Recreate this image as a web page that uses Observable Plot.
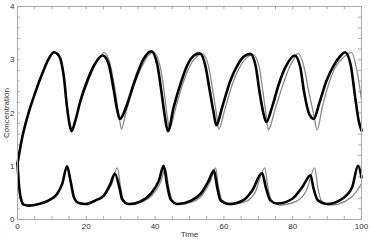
<!DOCTYPE html>
<html>
<head>
<meta charset="utf-8">
<script src="https://cdn.jsdelivr.net/npm/d3@7"></script>
<script src="https://cdn.jsdelivr.net/npm/@observablehq/plot@0.6"></script>
<style>
  html, body { margin: 0; padding: 0; background: #fff; }
  #chart svg { display: block; }
</style>
</head>
<body>
<div id="chart"></div>
<script>
// Upper series (black, model A)
const upperBlackT = [0,1.4,3.3,5.2,7.2,9.1,10.6,12.0,13.5,14.4,15.1,15.7,16.7,18.3,20.3,22.2,24.8,26.5,28.0,29.0,29.7,31.9,33.8,36.7,38.9,40.6,41.8,42.8,43.7,45.4,47.4,49.3,51.3,53.0,54.7,55.8,56.9,57.8,59.5,61.9,63.9,65.8,67.7,69.3,70.3,71.4,72.3,74.0,76.0,77.9,80.6,82.2,83.4,84.8,86.1,87.8,89.8,92.0,94.0,95.2,96.8,98.3,99.2,100];
const upperBlackY = [1.05,1.55,2.02,2.39,2.74,3.02,3.14,3.08,2.67,2.11,1.80,1.66,1.83,2.23,2.61,2.89,3.08,2.92,2.42,2.05,1.89,2.17,2.55,3.02,3.16,2.92,2.42,1.95,1.66,2.11,2.55,2.89,3.08,3.12,2.86,2.45,2.05,1.77,2.11,2.61,2.89,3.06,3.11,2.86,2.42,2.02,1.83,2.11,2.55,2.86,3.08,2.86,2.36,1.98,1.89,2.20,2.60,2.90,3.08,3.14,2.92,2.23,1.85,1.67];
// Upper series (gray, model B)
const upperGrayT = [0,1.4,3.3,5.2,7.2,9.1,10.6,12.0,13.5,14.4,15.1,15.7,16.7,18.3,20.3,22.2,24.1,25.1,26.8,28.4,29.5,30.2,31.5,33.5,36.0,38.0,39.6,41.5,42.6,43.6,44.2,45.8,47.8,50.0,52.0,53.7,55.6,56.7,57.8,58.5,60.2,62.5,64.5,66.5,68.4,70.3,71.3,72.3,72.9,74.8,77.0,79.0,80.5,81.6,83.3,84.8,86.2,87.1,88.6,90.5,92.4,95.0,97.1,98.5,100];
const upperGrayY = [1.05,1.55,2.02,2.39,2.74,3.02,3.14,3.08,2.67,2.11,1.80,1.66,1.83,2.20,2.55,2.85,3.06,3.14,2.95,2.42,1.95,1.70,2.00,2.45,2.85,3.08,3.14,2.86,2.42,1.90,1.70,2.05,2.50,2.87,3.05,3.11,2.86,2.45,2.00,1.70,2.05,2.55,2.85,3.03,3.10,2.86,2.42,1.95,1.68,2.05,2.50,2.85,3.03,3.12,2.86,2.36,1.95,1.68,2.11,2.55,2.86,3.06,3.14,2.85,2.25];
// Lower series (black, model A)
const lowerBlackT = [0,0.4,0.9,1.8,3.3,6.2,9.1,11.5,13.0,14.4,15.4,16.4,17.8,19.8,22.7,25.1,27.0,28.3,29.7,30.4,32.4,35.8,38.7,41.1,42.5,43.5,44.5,46.5,50.3,53.2,55.6,57.1,58.0,59.0,61.5,65.8,68.2,71.1,72.2,73.5,75.5,79.9,82.8,85.2,86.0,87.3,90.0,94.4,97.3,99.0,100];
const lowerBlackY = [1.05,0.67,0.42,0.28,0.26,0.29,0.36,0.48,0.67,1.00,0.73,0.42,0.31,0.29,0.36,0.45,0.67,0.86,0.58,0.38,0.29,0.34,0.48,0.73,1.01,0.65,0.38,0.29,0.35,0.48,0.73,0.92,0.62,0.36,0.29,0.37,0.54,0.87,0.60,0.36,0.30,0.39,0.61,0.83,0.60,0.36,0.29,0.39,0.61,1.01,0.79];
// Lower series (gray, model B)
const lowerGrayT = [0,0.4,0.9,1.8,3.3,6.2,9.1,11.5,13.0,14.4,15.4,16.4,17.8,19.8,22.7,25.1,27.3,29.0,30.0,30.8,33.0,36.3,39.2,41.6,43.0,43.9,45.0,47.0,50.8,53.7,56.1,57.6,58.4,59.5,62.0,66.5,69.0,71.9,72.8,74.0,76.5,81.0,84.0,86.4,87.3,88.3,91.0,95.5,98.5,100];
const lowerGrayY = [1.05,0.67,0.42,0.28,0.26,0.29,0.36,0.48,0.67,1.00,0.73,0.42,0.31,0.29,0.35,0.44,0.65,0.97,0.60,0.36,0.28,0.33,0.46,0.70,0.95,0.62,0.36,0.28,0.33,0.46,0.72,0.97,0.62,0.35,0.28,0.34,0.50,0.97,0.60,0.35,0.27,0.34,0.55,0.97,0.60,0.36,0.27,0.35,0.52,0.68];

const xMajor = [0,20,40,60,80,100];
const xMinor = d3.range(0, 101, 5);
const yMajor = [0,1,2,3,4];
const yMinor = d3.range(0, 4.001, 0.2);

const toRows = (T, Y) => T.map((t, i) => ({t, v: Y[i]}));
const ub = toRows(upperBlackT, upperBlackY);
const ug = toRows(upperGrayT, upperGrayY);
const lb = toRows(lowerBlackT, lowerBlackY);
const lg = toRows(lowerGrayT, lowerGrayY);

const chart = Plot.plot({
  width: 370,
  height: 242,
  marginLeft: 17,
  marginRight: 9,
  marginTop: 6,
  marginBottom: 23,
  style: {fontFamily: "Liberation Sans, Arial, sans-serif", fontSize: "8px", color: "#333", background: "#fff"},
  x: {domain: [0, 100]},
  y: {domain: [0, 4]},
  marks: [
    Plot.ruleX(xMinor, {x: d => d, y1: 0, y2: 0.06, stroke: "#999", strokeWidth: 0.8}),
    Plot.ruleX(xMinor, {x: d => d, y1: 4, y2: 3.94, stroke: "#999", strokeWidth: 0.8}),
    Plot.ruleY(yMinor, {y: d => d, x1: 0, x2: 0.9, stroke: "#999", strokeWidth: 0.8}),
    Plot.ruleY(yMinor, {y: d => d, x1: 100, x2: 99.1, stroke: "#999", strokeWidth: 0.8}),
    Plot.axisX({ticks: xMajor, tickSize: 0, tickPadding: 4, tickFormat: d3.format("d"), label: null, fill: "#333"}),
    Plot.axisY({ticks: yMajor, tickSize: 0, tickPadding: 3, tickFormat: d3.format("d"), label: null, fill: "#333"}),
    Plot.text(["Time"], {frameAnchor: "bottom", dy: 17, fill: "#333", fontSize: 8}),
    Plot.text(["Concentration"], {frameAnchor: "left", textAnchor: "middle", rotate: -90, dx: -11, fill: "#333", fontSize: 8}),
    Plot.line(ug, {x: "t", y: "v", stroke: "#8a8a8a", strokeWidth: 1.3, curve: "monotone-x"}),
    Plot.line(lg, {x: "t", y: "v", stroke: "#8a8a8a", strokeWidth: 1.3, curve: "monotone-x"}),
    Plot.line(ub, {x: "t", y: "v", stroke: "#000", strokeWidth: 2.6, curve: "monotone-x"}),
    Plot.line(lb, {x: "t", y: "v", stroke: "#000", strokeWidth: 2.6, curve: "monotone-x"}),
    Plot.frame({stroke: "#aaa", strokeWidth: 1})
  ]
});
document.getElementById("chart").append(chart);
</script>
</body>
</html>
